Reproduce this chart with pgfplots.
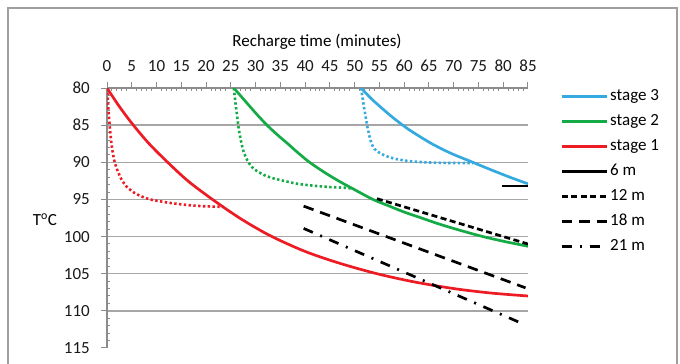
\documentclass[border=0pt]{standalone}
\usepackage{pgfplots}
\pgfplotsset{compat=1.18}
\usepackage{fontspec}
\setmainfont{Carlito}
\definecolor{cblue}{RGB}{52,170,222}
\definecolor{cgreen}{RGB}{20,170,70}
\definecolor{cred}{RGB}{237,28,36}
\definecolor{axgray}{RGB}{140,140,140}
\definecolor{gridgray}{RGB}{166,166,166}
\begin{document}
\fontsize{17}{20}\selectfont
\begin{tikzpicture}
\path[use as bounding box] (0pt,0pt) rectangle (680pt,364pt);
\draw[line width=1.2pt, gray!75] (8pt,-5pt) -- (8pt,356pt) -- (677pt,356pt) -- (677pt,-5pt);
\node[anchor=base] at (317pt,317.5pt) {Recharge time (minutes)};
\node[anchor=base] at (45pt,138.3pt) {T\textsuperscript{o}C};
\begin{axis}[
 at={(107pt,276pt)}, anchor=north west,
 scale only axis, width=421pt, height=260pt,
 xmin=0, xmax=85, ymin=80, ymax=115, y dir=reverse,
 axis x line*=top, axis y line*=left,
 axis line style={axgray, line width=1.2pt},
 xtick={0,5,...,85}, ytick={80,85,...,115},
 tick align=outside, major tick length=6.5pt,
 tick style={axgray, line width=1pt},
 minor ytick={85,90,...,110}, yminorgrids, minor tick length=0pt,
 minor grid style={gridgray, line width=1.3pt},
 extra x ticks={1,2,3,4,6,7,8,9,11,12,13,14,16,17,18,19,21,22,23,24,26,27,28,29,31,32,33,34,36,37,38,39,41,42,43,44,46,47,48,49,51,52,53,54,56,57,58,59,61,62,63,64,66,67,68,69,71,72,73,74,76,77,78,79,81,82,83,84},
 extra x tick labels={},
 extra y ticks={81,82,83,84,86,87,88,89,91,92,93,94,96,97,98,99,101,102,103,104,106,107,108,109,111,112,113,114},
 extra y tick labels={},
 extra tick style={tick align=inside, major tick length=3pt, grid=none},
 /pgf/number format/assume math mode=true,
 ticklabel style={font=\fontsize{17}{20}\selectfont, text=black!90},
 xticklabel style={yshift=4.4pt}, yticklabel style={xshift=-4.8pt},
 legend image code/.code={\draw[#1] (0pt,0pt) -- (45pt,0pt);},
 legend cell align=left,
 legend style={at={(axis description cs:1.076,1)}, anchor=north west, draw=none, fill=none,
   inner sep=0pt, row sep=9pt, font=\fontsize{17}{20}\selectfont,
   nodes={inner sep=0pt, inner xsep=2.3pt, text height=12pt, text depth=4pt, anchor=west}},
]
% stage 3 solid
\addplot[cblue, line width=2.7pt, smooth] coordinates {(51.3,80) (53.3,81.4) (55.3,82.6) (57.3,83.75) (59.3,84.8) (61.3,85.75) (65.3,87.4) (69.3,88.75) (73.3,89.85) (77.3,90.95) (81.3,92.0) (85,92.9)};
\addlegendentry{stage 3}
% stage 2 solid
\addplot[cgreen, line width=2.7pt, smooth] coordinates {(25.6,80) (27.3,81.3) (29,82.6) (30.6,83.8) (32.3,85) (34.4,86.3) (36.5,87.5) (38.7,88.8) (40.9,90) (44,91.4) (47,92.6) (50.3,93.8) (53.7,95) (57,95.9) (60,96.7) (63.5,97.5) (67,98.3) (71.5,99.2) (75.9,100) (80.5,100.7) (85,101.3)};
\addlegendentry{stage 2}
% stage 1 solid
\addplot[cred, line width=2.7pt, smooth] coordinates {(0,80) (2.5,82.5) (5.2,84.9) (8.5,87.5) (12.4,90.1) (16.5,92.6) (21.5,95.1) (27,97.6) (33,99.9) (40,102.0) (47,103.6) (54.5,105) (62,106.1) (70,107) (77.5,107.6) (85,108.0)};
\addlegendentry{stage 1}
% 6 m
\addplot[black, line width=2.7pt] coordinates {(79.7,93.2) (85,93.2)};
\addlegendentry{6 m}
% 12 m
\addplot[black, line width=2.7pt, dash pattern=on 6pt off 3.5pt] coordinates {(54.5,94.9) (85,101.0)};
\addlegendentry{12 m}
% 18 m
\addplot[black, line width=2.7pt, dash pattern=on 10.5pt off 7pt] coordinates {(39.7,95.9) (84.5,106.9)};
\addlegendentry{18 m}
% 21 m
\addplot[black, line width=2.7pt, dash pattern=on 10pt off 8pt on 2pt off 8pt] coordinates {(39.7,98.9) (83.8,111.7)};
\addlegendentry{21 m}
% dotted curves
\addplot[forget plot, cblue, line width=2.6pt, dash pattern=on 2.4pt off 2.4pt, smooth] coordinates {(51.3,80) (51.7,81.8) (52.1,83.4) (52.6,85.3) (53.2,87) (54,88.2) (55.8,89) (58,89.5) (60.5,89.8) (63,89.95) (66,90.05) (70,90.1) (73.9,90.1)};
\addplot[forget plot, cgreen, line width=2.6pt, dash pattern=on 2.4pt off 2.4pt, smooth] coordinates {(25.6,80) (25.9,81.8) (26.2,83.4) (26.6,85.5) (27.1,87.3) (27.6,88.6) (28.3,89.7) (29.2,90.6) (30.3,91.2) (32,91.8) (33.8,92.2) (35.7,92.5) (38.5,92.9) (42.4,93.2) (45.5,93.35) (48.5,93.45) (49.8,93.6)};
\addplot[forget plot, cred, line width=2.6pt, dash pattern=on 2.4pt off 2.4pt, smooth] coordinates {(0,80) (0.2,81.8) (0.35,83.4) (0.6,85.5) (0.9,87.5) (1.35,89.4) (2,90.9) (3,92.4) (4,93.3) (5.5,94.1) (7,94.6) (8.7,95.0) (12,95.4) (15.5,95.7) (19,95.9) (23.6,96.0)};
\end{axis}
\end{tikzpicture}
\end{document}
